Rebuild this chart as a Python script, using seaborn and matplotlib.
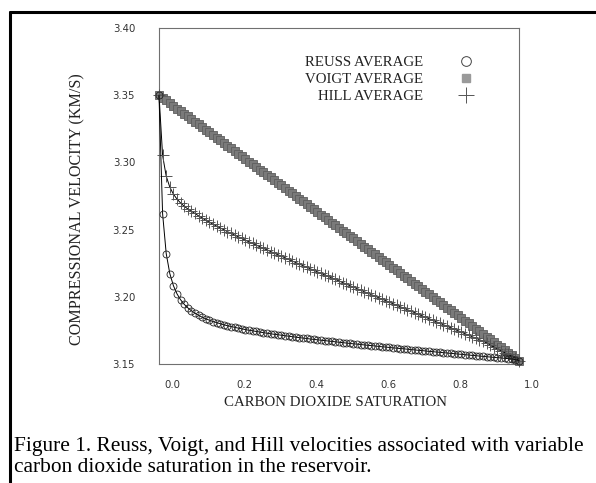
import matplotlib
matplotlib.use("Agg")
import matplotlib.pyplot as plt
import matplotlib.transforms as mtransforms
from matplotlib.lines import Line2D
import seaborn as sns
import pandas as pd

# ---------------- data ----------------
saturation = [0.00, 0.01, 0.02, 0.03, 0.04, 0.05, 0.06, 0.07, 0.08, 0.09,
              0.10, 0.11, 0.12, 0.13, 0.14, 0.15, 0.16, 0.17, 0.18, 0.19,
              0.20, 0.21, 0.22, 0.23, 0.24, 0.25, 0.26, 0.27, 0.28, 0.29,
              0.30, 0.31, 0.32, 0.33, 0.34, 0.35, 0.36, 0.37, 0.38, 0.39,
              0.40, 0.41, 0.42, 0.43, 0.44, 0.45, 0.46, 0.47, 0.48, 0.49,
              0.50, 0.51, 0.52, 0.53, 0.54, 0.55, 0.56, 0.57, 0.58, 0.59,
              0.60, 0.61, 0.62, 0.63, 0.64, 0.65, 0.66, 0.67, 0.68, 0.69,
              0.70, 0.71, 0.72, 0.73, 0.74, 0.75, 0.76, 0.77, 0.78, 0.79,
              0.80, 0.81, 0.82, 0.83, 0.84, 0.85, 0.86, 0.87, 0.88, 0.89,
              0.90, 0.91, 0.92, 0.93, 0.94, 0.95, 0.96, 0.97, 0.98, 0.99,
              1.00]

reuss = [3.3500, 3.2618, 3.2322, 3.2173, 3.2083, 3.2022, 3.1978, 3.1944, 3.1918, 3.1896,
         3.1878, 3.1862, 3.1848, 3.1836, 3.1826, 3.1816, 3.1808, 3.1800, 3.1792, 3.1785,
         3.1779, 3.1773, 3.1767, 3.1762, 3.1756, 3.1751, 3.1747, 3.1742, 3.1738, 3.1733,
         3.1729, 3.1725, 3.1721, 3.1718, 3.1714, 3.1710, 3.1707, 3.1703, 3.1700, 3.1696,
         3.1693, 3.1690, 3.1686, 3.1683, 3.1680, 3.1677, 3.1674, 3.1671, 3.1668, 3.1665,
         3.1662, 3.1659, 3.1656, 3.1653, 3.1650, 3.1648, 3.1645, 3.1642, 3.1639, 3.1637,
         3.1634, 3.1631, 3.1628, 3.1626, 3.1623, 3.1620, 3.1618, 3.1615, 3.1613, 3.1610,
         3.1607, 3.1605, 3.1602, 3.1600, 3.1597, 3.1594, 3.1592, 3.1589, 3.1587, 3.1584,
         3.1582, 3.1579, 3.1577, 3.1574, 3.1572, 3.1569, 3.1567, 3.1564, 3.1562, 3.1559,
         3.1557, 3.1554, 3.1552, 3.1549, 3.1547, 3.1545, 3.1542, 3.1540, 3.1537, 3.1533,
         3.1525]

voigt = [3.3500, 3.3480, 3.3461, 3.3441, 3.3421, 3.3401, 3.3382, 3.3362, 3.3342, 3.3322,
         3.3303, 3.3283, 3.3263, 3.3243, 3.3224, 3.3204, 3.3184, 3.3164, 3.3145, 3.3125,
         3.3105, 3.3085, 3.3066, 3.3046, 3.3026, 3.3006, 3.2987, 3.2967, 3.2947, 3.2927,
         3.2908, 3.2888, 3.2868, 3.2848, 3.2829, 3.2809, 3.2789, 3.2769, 3.2750, 3.2730,
         3.2710, 3.2690, 3.2671, 3.2651, 3.2631, 3.2611, 3.2592, 3.2572, 3.2552, 3.2532,
         3.2513, 3.2493, 3.2473, 3.2453, 3.2434, 3.2414, 3.2394, 3.2374, 3.2355, 3.2335,
         3.2315, 3.2295, 3.2276, 3.2256, 3.2236, 3.2216, 3.2197, 3.2177, 3.2157, 3.2137,
         3.2118, 3.2098, 3.2078, 3.2058, 3.2039, 3.2019, 3.1999, 3.1979, 3.1960, 3.1940,
         3.1920, 3.1900, 3.1881, 3.1861, 3.1841, 3.1821, 3.1802, 3.1782, 3.1762, 3.1742,
         3.1723, 3.1703, 3.1683, 3.1663, 3.1644, 3.1624, 3.1604, 3.1584, 3.1565, 3.1545,
         3.1525]

hill = [3.3500, 3.3052, 3.2898, 3.2816, 3.2764, 3.2727, 3.2698, 3.2674, 3.2654, 3.2636,
        3.2620, 3.2602, 3.2586, 3.2570, 3.2555, 3.2540, 3.2526, 3.2512, 3.2499, 3.2485,
        3.2472, 3.2459, 3.2447, 3.2434, 3.2421, 3.2409, 3.2397, 3.2385, 3.2373, 3.2360,
        3.2349, 3.2337, 3.2325, 3.2313, 3.2302, 3.2290, 3.2278, 3.2266, 3.2255, 3.2243,
        3.2232, 3.2220, 3.2209, 3.2197, 3.2186, 3.2174, 3.2163, 3.2152, 3.2140, 3.2129,
        3.2118, 3.2106, 3.2095, 3.2083, 3.2072, 3.2061, 3.2050, 3.2038, 3.2027, 3.2016,
        3.2005, 3.1993, 3.1982, 3.1971, 3.1960, 3.1948, 3.1938, 3.1926, 3.1915, 3.1904,
        3.1893, 3.1882, 3.1870, 3.1859, 3.1848, 3.1837, 3.1826, 3.1814, 3.1804, 3.1792,
        3.1781, 3.1770, 3.1759, 3.1748, 3.1737, 3.1725, 3.1715, 3.1703, 3.1692, 3.1681,
        3.1670, 3.1656, 3.1642, 3.1627, 3.1614, 3.1600, 3.1585, 3.1571, 3.1557, 3.1543,
        3.1525]

series_labels = ["REUSS AVERAGE", "VOIGT AVERAGE", "HILL AVERAGE"]
x_ticks = [0.0, 0.2, 0.4, 0.6, 0.8, 1.0]
x_tick_labels = ["0.0", "0.2", "0.4", "0.6", "0.8", "1.0"]
y_ticks = [3.15, 3.20, 3.25, 3.30, 3.35, 3.40]
y_tick_labels = ["3.15", "3.20", "3.25", "3.30", "3.35", "3.40"]
x_label = "CARBON DIOXIDE SATURATION"
y_label = "COMPRESSIONAL VELOCITY (KM/S)"
caption_1 = "Figure 1. Reuss, Voigt, and Hill velocities associated with variable"
caption_2 = "carbon dioxide saturation in the reservoir."

df = pd.DataFrame({"S": saturation, "reuss": reuss, "voigt": voigt, "hill": hill})

# ---------------- figure ----------------
sns.set_style("white")
plt.rcParams["font.family"] = ["DejaVu Sans"]

W, H, DPI = 596, 483, 100
fig = plt.figure(figsize=(W / DPI, H / DPI), dpi=DPI)
ax = fig.add_axes([159 / W, 1 - 364 / H, 360 / W, 336 / H])

# Voigt: gray squares
sns.lineplot(data=df, x="S", y="voigt", ax=ax, color="black", linewidth=0.8,
             marker="s", markersize=6, markerfacecolor="#7a7a7a",
             markeredgecolor="#5e5e5e", markeredgewidth=0.6, alpha=1.0,
             legend=False, clip_on=False, zorder=3)
# Hill: gray plus signs
sns.lineplot(data=df, x="S", y="hill", ax=ax, color="black", linewidth=0.7,
             marker="+", markersize=8, markeredgecolor="#555555",
             markeredgewidth=0.7, legend=False, clip_on=False, zorder=4)
# Reuss: open circles
sns.lineplot(data=df, x="S", y="reuss", ax=ax, color="black", linewidth=0.7,
             marker="o", markersize=5, markerfacecolor="none",
             markeredgecolor="#222222", markeredgewidth=0.6,
             legend=False, clip_on=False, zorder=5)

ax.set_xlim(0, 1.0)
ax.set_ylim(3.15, 3.40)
ax.set_xticks(x_ticks)
ax.set_xticklabels(x_tick_labels)
ax.set_yticks(y_ticks)
ax.set_yticklabels(y_tick_labels)

for sp in ax.spines.values():
    sp.set_visible(True)
    sp.set_color("#707070")
    sp.set_linewidth(0.8)

ax.tick_params(axis="x", direction="out", length=6, width=0.8, color="#707070",
               pad=5.5, labelsize=7.3, labelcolor="#333333")
ax.tick_params(axis="y", direction="out", length=7.2, width=0.8, color="#707070",
               pad=10, labelsize=7.3, labelcolor="#333333")

offset = mtransforms.ScaledTranslation(13 / DPI, 0, fig.dpi_scale_trans)
for lab in ax.get_xticklabels():
    lab.set_transform(lab.get_transform() + offset)

serif = ["Liberation Serif", "DejaVu Serif"]
ax.set_xlabel(x_label, family=serif, fontsize=10.7, color="#222222")
ax.xaxis.set_label_coords(0.49, (364 - 396) / 336)
ax.set_ylabel(y_label, family=serif, fontsize=11.6, color="#222222")
ax.yaxis.set_label_coords((85 - 159) / 360, 0.46)

# legend (text left, marker right)
handles = [
    Line2D([], [], linestyle="none", marker="o", markersize=7,
           markerfacecolor="none", markeredgecolor="#444444", markeredgewidth=0.7),
    Line2D([], [], linestyle="none", marker="s", markersize=5.5,
           markerfacecolor="#9a9a9a", markeredgecolor="#9a9a9a"),
    Line2D([], [], linestyle="none", marker="+", markersize=11,
           markeredgecolor="#555555", markeredgewidth=0.7),
]
leg = ax.legend(handles, series_labels, loc="upper right",
                bbox_to_anchor=(473.5 / W, 1 - 56 / H),
                bbox_transform=fig.transFigure, frameon=False,
                markerfirst=False, handlelength=1.0, handletextpad=2.4,
                labelspacing=0.22, borderpad=0, borderaxespad=0,
                prop={"family": serif, "size": 10.7})
for t in leg.get_texts():
    t.set_color("#222222")

# outer figure border (top and left)
fig.add_artist(Line2D([9.5 / W, 1.0], [1 - 11.5 / H, 1 - 11.5 / H],
                      transform=fig.transFigure, color="black", linewidth=2.2))
fig.add_artist(Line2D([9.5 / W, 9.5 / W], [0.0, 1 - 11.5 / H],
                      transform=fig.transFigure, color="black", linewidth=2.2))

# caption
fig.text(14 / W, 1 - 451 / H, caption_1, family=serif, fontsize=15.4,
         color="black", va="baseline", ha="left")
fig.text(14 / W, 1 - 472 / H, caption_2, family=serif, fontsize=15.4,
         color="black", va="baseline", ha="left")

fig.savefig("out.png", dpi=DPI)
